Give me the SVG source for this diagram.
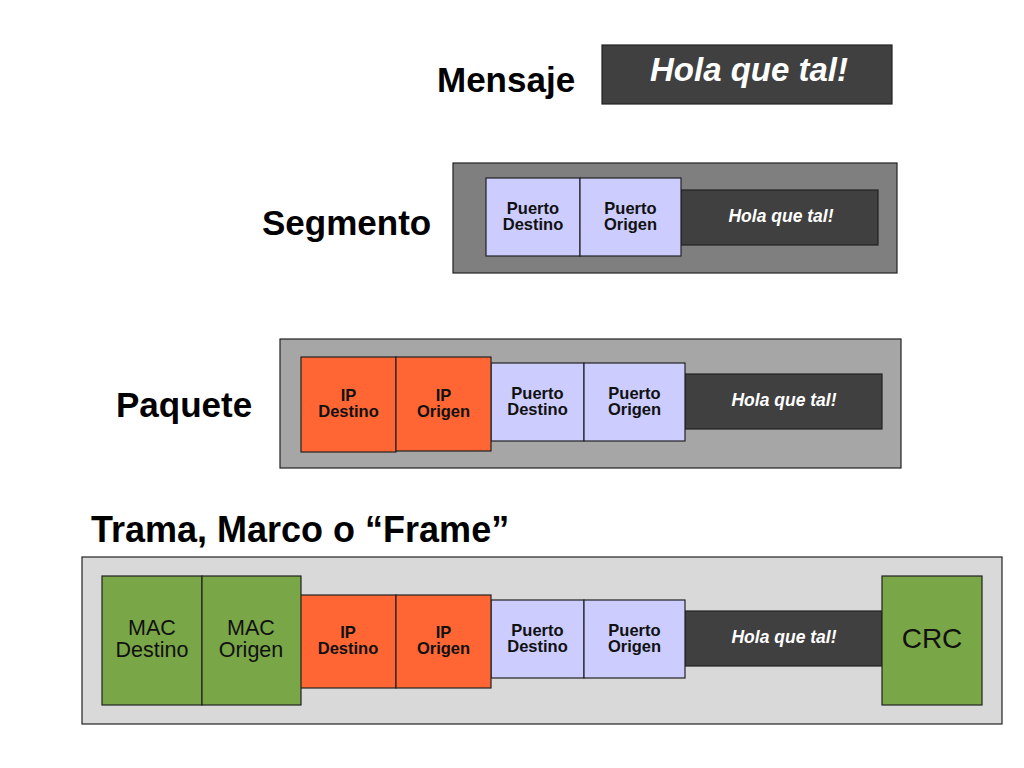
<svg xmlns="http://www.w3.org/2000/svg" width="1024" height="768" viewBox="0 0 1024 768">
<style>
.h{font-family:"Liberation Sans",Arial,sans-serif;font-weight:bold;font-size:35px;fill:#000}
.box{stroke:#222;stroke-width:1.2}
.dark{fill:#404040}
.lav{fill:#ccccff}
.org{fill:#ff6633}
.grn{fill:#79a646}
.t{font-family:"Liberation Sans",Arial,sans-serif;font-weight:bold;font-size:16.5px;fill:#111;text-anchor:middle}
.hola{font-family:"Liberation Sans",Arial,sans-serif;font-weight:bold;font-style:italic;font-size:17.5px;fill:#fff;text-anchor:middle}
.m{font-family:"Liberation Sans",Arial,sans-serif;font-size:21.5px;fill:#111;text-anchor:middle}
</style>
<rect width="1024" height="768" fill="#fff"/>

<g id="mensaje">
<text class="h" x="437" y="92">Mensaje</text>
<rect class="box dark" x="602" y="45" width="290" height="59"/>
<text class="hola" x="749" y="81" style="font-size:33px">Hola que tal!</text>
</g>

<g id="segmento">
<text class="h" x="262" y="235">Segmento</text>
<rect class="box" fill="#7f7f7f" x="453" y="163" width="444" height="110"/>
<rect class="box dark" x="681" y="190" width="197" height="55"/>
<text class="hola" x="781" y="222">Hola que tal!</text>
<rect class="box lav" x="486" y="178" width="94" height="78"/>
<rect class="box lav" x="580" y="178" width="101" height="78"/>
<text class="t" x="533" y="214">Puerto</text>
<text class="t" x="533" y="230">Destino</text>
<text class="t" x="630.5" y="214">Puerto</text>
<text class="t" x="630.5" y="230">Origen</text>
</g>

<g id="paquete">
<text class="h" x="116" y="417">Paquete</text>
<rect class="box" fill="#a6a6a6" x="280" y="339" width="621" height="129"/>
<rect class="box dark" x="685" y="374" width="197" height="55"/>
<text class="hola" x="784" y="406">Hola que tal!</text>
<rect class="box lav" x="491" y="363" width="93" height="78"/>
<rect class="box lav" x="584" y="363" width="101" height="78"/>
<text class="t" x="537.5" y="399">Puerto</text>
<text class="t" x="537.5" y="415">Destino</text>
<text class="t" x="634.5" y="399">Puerto</text>
<text class="t" x="634.5" y="415">Origen</text>
<rect class="box org" x="301" y="357" width="95" height="95"/>
<rect class="box org" x="396" y="357" width="95" height="94"/>
<text class="t" x="348.5" y="401">IP</text>
<text class="t" x="348.5" y="417">Destino</text>
<text class="t" x="443.5" y="401">IP</text>
<text class="t" x="443.5" y="417">Origen</text>
</g>

<g id="trama">
<text class="h" x="91" y="542" style="font-size:36px">Trama, Marco o “Frame”</text>
<rect class="box" fill="#d9d9d9" x="82" y="557" width="920" height="167"/>
<rect class="box dark" x="685" y="611" width="197" height="55"/>
<text class="hola" x="784" y="643">Hola que tal!</text>
<rect class="box lav" x="491" y="600" width="93" height="78"/>
<rect class="box lav" x="584" y="600" width="101" height="78"/>
<text class="t" x="537.5" y="636">Puerto</text>
<text class="t" x="537.5" y="652">Destino</text>
<text class="t" x="634.5" y="636">Puerto</text>
<text class="t" x="634.5" y="652">Origen</text>
<rect class="box org" x="300" y="595" width="96" height="93"/>
<rect class="box org" x="396" y="595" width="95" height="93"/>
<text class="t" x="348" y="638">IP</text>
<text class="t" x="348" y="654">Destino</text>
<text class="t" x="443.5" y="638">IP</text>
<text class="t" x="443.5" y="654">Origen</text>
<rect class="box grn" x="102" y="576" width="100" height="129"/>
<rect class="box grn" x="202" y="576" width="99" height="129"/>
<text class="m" x="152" y="635">MAC</text>
<text class="m" x="152" y="657">Destino</text>
<text class="m" x="251" y="635">MAC</text>
<text class="m" x="251" y="657">Origen</text>
<rect class="box grn" x="882" y="576" width="100" height="129"/>
<text class="m" x="932" y="648" style="font-size:28px">CRC</text>
</g>
</svg>
